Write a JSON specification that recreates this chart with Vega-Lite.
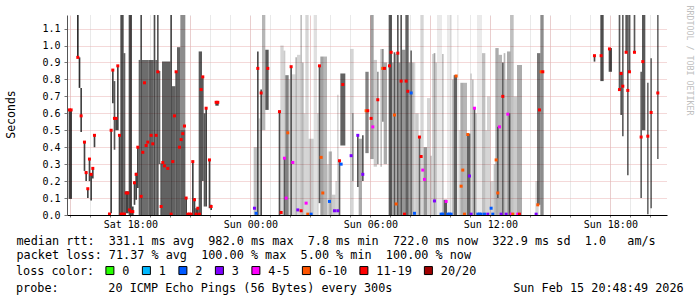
{
"$schema": "https://vega.github.io/schema/vega-lite/v6.json",
"width": 600, "height": 200,
"autosize": {"type": "none"},
"padding": {"left": 67, "top": 15, "right": 30, "bottom": 82},
"background": "white",
"config": {"view": {"stroke": null}},
"title": {"text": "probe:\u00a0\u00a0\u00a0\u00a0\u00a0\u00a0\u00a020\u00a0ICMP\u00a0Echo\u00a0Pings\u00a0(56\u00a0Bytes)\u00a0every\u00a0300s\u00a0\u00a0\u00a0\u00a0\u00a0\u00a0\u00a0\u00a0\u00a0\u00a0\u00a0\u00a0\u00a0\u00a0\u00a0\u00a0\u00a0Sun\u00a0Feb\u00a015\u00a020:48:49\u00a02026",
 "orient": "bottom", "anchor": "start", "frame": "group", "dx": -51, "offset": 5,
 "font": "DejaVu Sans Mono", "fontSize": 11.8, "fontWeight": "normal", "color": "#000"},
"resolve": {"axis": {"x": "independent", "y": "independent"}},
"datasets": {
"smoke": [
{"t1":"2026-02-14T14:55","t2":"2026-02-14T15:05","lo":0.095,"hi":0.62,"n":18},
{"t1":"2026-02-14T15:20","t2":"2026-02-14T15:25","lo":0.93,"hi":1.18,"n":20},
{"t1":"2026-02-14T15:25","t2":"2026-02-14T15:30","lo":0.75,"hi":0.93,"n":20},
{"t1":"2026-02-14T15:30","t2":"2026-02-14T15:35","lo":0.49,"hi":0.75,"n":18},
{"t1":"2026-02-14T15:40","t2":"2026-02-14T15:45","lo":0.26,"hi":0.43,"n":18},
{"t1":"2026-02-14T15:45","t2":"2026-02-14T15:50","lo":0.2,"hi":0.26,"n":18},
{"t1":"2026-02-14T15:50","t2":"2026-02-14T15:55","lo":0.1,"hi":0.16,"n":18},
{"t1":"2026-02-14T15:55","t2":"2026-02-14T16:00","lo":0.2,"hi":0.335,"n":18},
{"t1":"2026-02-14T16:00","t2":"2026-02-14T16:05","lo":0.085,"hi":0.245,"n":18},
{"t1":"2026-02-14T16:05","t2":"2026-02-14T16:10","lo":0.215,"hi":0.28,"n":18},
{"t1":"2026-02-14T16:10","t2":"2026-02-14T16:15","lo":0.4,"hi":0.47,"n":18},
{"t1":"2026-02-14T16:55","t2":"2026-02-14T17:00","lo":0,"hi":0.012,"n":18},
{"t1":"2026-02-14T17:00","t2":"2026-02-14T17:05","lo":0.01,"hi":0.5,"n":18},
{"t1":"2026-02-14T17:05","t2":"2026-02-14T17:10","lo":0.66,"hi":0.86,"n":18},
{"t1":"2026-02-14T17:10","t2":"2026-02-14T17:15","lo":0.385,"hi":0.79,"n":16},
{"t1":"2026-02-14T17:15","t2":"2026-02-14T17:20","lo":0.5,"hi":0.57,"n":18},
{"t1":"2026-02-14T17:20","t2":"2026-02-14T17:25","lo":0.5,"hi":0.88,"n":18},
{"t1":"2026-02-14T17:25","t2":"2026-02-14T17:30","lo":0,"hi":0.47,"n":18},
{"t1":"2026-02-14T17:30","t2":"2026-02-14T17:40","lo":0,"hi":1.18,"n":17},
{"t1":"2026-02-14T17:40","t2":"2026-02-14T17:45","lo":0,"hi":0.955,"n":15},
{"t1":"2026-02-14T17:45","t2":"2026-02-14T17:55","lo":0.01,"hi":0.14,"n":18},
{"t1":"2026-02-14T17:55","t2":"2026-02-14T18:05","lo":0,"hi":1.18,"n":17},
{"t1":"2026-02-14T18:05","t2":"2026-02-14T18:10","lo":0,"hi":0.05,"n":18},
{"t1":"2026-02-14T18:10","t2":"2026-02-14T18:15","lo":0.06,"hi":0.2,"n":18},
{"t1":"2026-02-14T18:15","t2":"2026-02-14T18:20","lo":0.09,"hi":0.25,"n":18},
{"t1":"2026-02-14T18:20","t2":"2026-02-14T18:25","lo":0.16,"hi":0.4,"n":18},
{"t1":"2026-02-14T18:25","t2":"2026-02-14T18:30","lo":0,"hi":0.915,"n":15},
{"t1":"2026-02-14T18:30","t2":"2026-02-14T18:35","lo":0,"hi":1.18,"n":17},
{"t1":"2026-02-14T18:35","t2":"2026-02-14T18:55","lo":0,"hi":0.915,"n":14},
{"t1":"2026-02-14T18:55","t2":"2026-02-14T19:10","lo":0,"hi":0.915,"n":15},
{"t1":"2026-02-14T19:10","t2":"2026-02-14T19:15","lo":0,"hi":1.18,"n":17},
{"t1":"2026-02-14T19:15","t2":"2026-02-14T19:20","lo":0,"hi":0.915,"n":14},
{"t1":"2026-02-14T19:20","t2":"2026-02-14T19:25","lo":0,"hi":1.18,"n":16},
{"t1":"2026-02-14T19:25","t2":"2026-02-14T19:30","lo":0.3,"hi":0.85,"n":15},
{"t1":"2026-02-14T19:30","t2":"2026-02-14T19:35","lo":0,"hi":0.305,"n":16},
{"t1":"2026-02-14T19:35","t2":"2026-02-14T20:00","lo":0,"hi":0.905,"n":15},
{"t1":"2026-02-14T20:00","t2":"2026-02-14T20:05","lo":0,"hi":1.18,"n":17},
{"t1":"2026-02-14T20:05","t2":"2026-02-14T20:15","lo":0,"hi":0.76,"n":15},
{"t1":"2026-02-14T20:15","t2":"2026-02-14T20:20","lo":0,"hi":0.845,"n":16},
{"t1":"2026-02-14T20:20","t2":"2026-02-14T20:30","lo":0,"hi":0.99,"n":15},
{"t1":"2026-02-14T20:30","t2":"2026-02-14T20:45","lo":0,"hi":1.18,"n":11},
{"t1":"2026-02-14T20:30","t2":"2026-02-14T20:45","lo":0,"hi":0.5,"n":8},
{"t1":"2026-02-14T20:45","t2":"2026-02-14T20:50","lo":0,"hi":0.1,"n":18},
{"t1":"2026-02-14T20:50","t2":"2026-02-14T21:05","lo":0,"hi":0.012,"n":18},
{"t1":"2026-02-14T21:05","t2":"2026-02-14T21:10","lo":0,"hi":0.315,"n":18},
{"t1":"2026-02-14T21:10","t2":"2026-02-14T21:15","lo":0,"hi":0.1,"n":18},
{"t1":"2026-02-14T21:15","t2":"2026-02-14T21:25","lo":0,"hi":0.04,"n":18},
{"t1":"2026-02-14T21:25","t2":"2026-02-14T21:35","lo":0,"hi":0.965,"n":16},
{"t1":"2026-02-14T21:35","t2":"2026-02-14T21:40","lo":0.2,"hi":0.82,"n":16},
{"t1":"2026-02-14T21:40","t2":"2026-02-14T21:45","lo":0.05,"hi":0.6,"n":16},
{"t1":"2026-02-14T21:45","t2":"2026-02-14T21:50","lo":0.05,"hi":0.63,"n":18},
{"t1":"2026-02-14T21:55","t2":"2026-02-14T22:00","lo":0.04,"hi":0.33,"n":18},
{"t1":"2026-02-14T22:00","t2":"2026-02-14T22:05","lo":0.03,"hi":0.06,"n":18},
{"t1":"2026-02-14T22:15","t2":"2026-02-14T22:25","lo":0.645,"hi":0.665,"n":18},
{"t1":"2026-02-15T00:10","t2":"2026-02-15T00:20","lo":0,"hi":0.4,"n":6},
{"t1":"2026-02-15T00:20","t2":"2026-02-15T00:25","lo":0,"hi":0.965,"n":17},
{"t1":"2026-02-15T00:25","t2":"2026-02-15T00:30","lo":0,"hi":0.57,"n":4},
{"t1":"2026-02-15T00:30","t2":"2026-02-15T00:35","lo":0,"hi":0.74,"n":17},
{"t1":"2026-02-15T00:35","t2":"2026-02-15T00:45","lo":0.5,"hi":1.18,"n":7},
{"t1":"2026-02-15T00:45","t2":"2026-02-15T00:55","lo":0.62,"hi":0.975,"n":16},
{"t1":"2026-02-15T01:25","t2":"2026-02-15T01:30","lo":0,"hi":0.61,"n":17},
{"t1":"2026-02-15T01:30","t2":"2026-02-15T01:40","lo":0,"hi":1.0,"n":4},
{"t1":"2026-02-15T01:40","t2":"2026-02-15T01:45","lo":0,"hi":0.97,"n":5},
{"t1":"2026-02-15T01:40","t2":"2026-02-15T01:45","lo":0,"hi":0.335,"n":14},
{"t1":"2026-02-15T01:45","t2":"2026-02-15T01:55","lo":0,"hi":0.825,"n":12},
{"t1":"2026-02-15T01:55","t2":"2026-02-15T02:00","lo":0,"hi":0.8,"n":4},
{"t1":"2026-02-15T02:00","t2":"2026-02-15T02:05","lo":0,"hi":0.875,"n":16},
{"t1":"2026-02-15T02:05","t2":"2026-02-15T02:15","lo":0,"hi":0.83,"n":4},
{"t1":"2026-02-15T02:15","t2":"2026-02-15T02:20","lo":0,"hi":0.93,"n":7},
{"t1":"2026-02-15T02:20","t2":"2026-02-15T02:30","lo":0,"hi":0.945,"n":4},
{"t1":"2026-02-15T02:30","t2":"2026-02-15T02:35","lo":0,"hi":1.18,"n":6},
{"t1":"2026-02-15T02:35","t2":"2026-02-15T02:40","lo":0,"hi":0.9,"n":7},
{"t1":"2026-02-15T02:40","t2":"2026-02-15T02:45","lo":0,"hi":0.6,"n":4},
{"t1":"2026-02-15T02:45","t2":"2026-02-15T02:55","lo":0,"hi":1.18,"n":4},
{"t1":"2026-02-15T02:55","t2":"2026-02-15T03:10","lo":0,"hi":0.45,"n":5},
{"t1":"2026-02-15T03:10","t2":"2026-02-15T03:20","lo":0,"hi":1.18,"n":3},
{"t1":"2026-02-15T03:20","t2":"2026-02-15T03:25","lo":0,"hi":0.6,"n":4},
{"t1":"2026-02-15T03:25","t2":"2026-02-15T03:30","lo":0.07,"hi":0.885,"n":16},
{"t1":"2026-02-15T03:30","t2":"2026-02-15T03:40","lo":0,"hi":0.935,"n":9},
{"t1":"2026-02-15T03:40","t2":"2026-02-15T03:50","lo":0,"hi":0.935,"n":7},
{"t1":"2026-02-15T03:50","t2":"2026-02-15T03:55","lo":0,"hi":0.3,"n":4},
{"t1":"2026-02-15T03:55","t2":"2026-02-15T04:05","lo":0,"hi":0.375,"n":7},
{"t1":"2026-02-15T04:05","t2":"2026-02-15T04:15","lo":0,"hi":0.12,"n":5},
{"t1":"2026-02-15T04:15","t2":"2026-02-15T04:20","lo":0,"hi":0.2,"n":4},
{"t1":"2026-02-15T04:20","t2":"2026-02-15T04:25","lo":0,"hi":0.71,"n":4},
{"t1":"2026-02-15T04:25","t2":"2026-02-15T04:30","lo":0,"hi":0.315,"n":16},
{"t1":"2026-02-15T04:30","t2":"2026-02-15T04:45","lo":0.41,"hi":0.835,"n":15},
{"t1":"2026-02-15T05:00","t2":"2026-02-15T05:10","lo":0,"hi":0.98,"n":4},
{"t1":"2026-02-15T05:05","t2":"2026-02-15T05:10","lo":0.2,"hi":0.6,"n":8},
{"t1":"2026-02-15T05:20","t2":"2026-02-15T05:25","lo":0.165,"hi":0.47,"n":16},
{"t1":"2026-02-15T05:25","t2":"2026-02-15T05:35","lo":0,"hi":0.45,"n":8},
{"t1":"2026-02-15T05:35","t2":"2026-02-15T05:40","lo":0.2,"hi":0.47,"n":16},
{"t1":"2026-02-15T05:45","t2":"2026-02-15T05:55","lo":0.365,"hi":0.845,"n":12},
{"t1":"2026-02-15T06:00","t2":"2026-02-15T06:10","lo":0.33,"hi":1.18,"n":9},
{"t1":"2026-02-15T06:10","t2":"2026-02-15T06:20","lo":0.285,"hi":0.915,"n":5},
{"t1":"2026-02-15T06:20","t2":"2026-02-15T06:25","lo":0.3,"hi":0.845,"n":10},
{"t1":"2026-02-15T06:30","t2":"2026-02-15T06:35","lo":0.285,"hi":0.98,"n":6},
{"t1":"2026-02-15T06:35","t2":"2026-02-15T06:40","lo":0.55,"hi":0.98,"n":11},
{"t1":"2026-02-15T06:40","t2":"2026-02-15T06:50","lo":0.3,"hi":0.9,"n":8},
{"t1":"2026-02-15T06:55","t2":"2026-02-15T07:05","lo":0,"hi":1.18,"n":16},
{"t1":"2026-02-15T07:05","t2":"2026-02-15T07:10","lo":0,"hi":0.9,"n":8},
{"t1":"2026-02-15T07:10","t2":"2026-02-15T07:15","lo":0,"hi":0.96,"n":16},
{"t1":"2026-02-15T07:15","t2":"2026-02-15T07:20","lo":0,"hi":0.95,"n":8},
{"t1":"2026-02-15T07:20","t2":"2026-02-15T07:25","lo":0,"hi":1.18,"n":16},
{"t1":"2026-02-15T07:25","t2":"2026-02-15T07:30","lo":0,"hi":0.9,"n":10},
{"t1":"2026-02-15T07:30","t2":"2026-02-15T07:35","lo":0,"hi":1.18,"n":16},
{"t1":"2026-02-15T07:35","t2":"2026-02-15T07:45","lo":0,"hi":0.975,"n":10},
{"t1":"2026-02-15T07:45","t2":"2026-02-15T07:55","lo":0,"hi":1.18,"n":15},
{"t1":"2026-02-15T07:55","t2":"2026-02-15T08:00","lo":0,"hi":0.9,"n":9},
{"t1":"2026-02-15T08:00","t2":"2026-02-15T08:05","lo":0,"hi":0.97,"n":14},
{"t1":"2026-02-15T08:05","t2":"2026-02-15T08:10","lo":0,"hi":0.9,"n":7},
{"t1":"2026-02-15T08:10","t2":"2026-02-15T08:15","lo":0,"hi":0.9,"n":4},
{"t1":"2026-02-15T08:15","t2":"2026-02-15T08:25","lo":0,"hi":0.6,"n":5},
{"t1":"2026-02-15T08:25","t2":"2026-02-15T08:30","lo":0,"hi":0.46,"n":15},
{"t1":"2026-02-15T08:30","t2":"2026-02-15T08:40","lo":0,"hi":1.18,"n":4},
{"t1":"2026-02-15T08:40","t2":"2026-02-15T08:50","lo":0,"hi":0.4,"n":10},
{"t1":"2026-02-15T08:50","t2":"2026-02-15T09:00","lo":0,"hi":0.69,"n":4},
{"t1":"2026-02-15T09:00","t2":"2026-02-15T09:05","lo":0,"hi":0.35,"n":5},
{"t1":"2026-02-15T09:05","t2":"2026-02-15T09:10","lo":0,"hi":0.95,"n":4},
{"t1":"2026-02-15T09:10","t2":"2026-02-15T09:15","lo":0,"hi":0.955,"n":9},
{"t1":"2026-02-15T09:15","t2":"2026-02-15T09:20","lo":0,"hi":0.9,"n":5},
{"t1":"2026-02-15T09:20","t2":"2026-02-15T09:35","lo":0,"hi":1.18,"n":2},
{"t1":"2026-02-15T09:35","t2":"2026-02-15T09:40","lo":0,"hi":0.95,"n":6},
{"t1":"2026-02-15T09:40","t2":"2026-02-15T09:50","lo":0,"hi":0.09,"n":16},
{"t1":"2026-02-15T09:50","t2":"2026-02-15T10:05","lo":0,"hi":1.18,"n":2},
{"t1":"2026-02-15T10:05","t2":"2026-02-15T10:10","lo":0,"hi":0.8,"n":6},
{"t1":"2026-02-15T10:10","t2":"2026-02-15T10:20","lo":0,"hi":0.825,"n":15},
{"t1":"2026-02-15T10:20","t2":"2026-02-15T10:25","lo":0,"hi":1.18,"n":2},
{"t1":"2026-02-15T10:25","t2":"2026-02-15T10:30","lo":0,"hi":0.5,"n":4},
{"t1":"2026-02-15T10:30","t2":"2026-02-15T10:40","lo":0,"hi":0.78,"n":8},
{"t1":"2026-02-15T10:40","t2":"2026-02-15T10:50","lo":0,"hi":0.78,"n":7},
{"t1":"2026-02-15T10:50","t2":"2026-02-15T11:00","lo":0,"hi":0.48,"n":15},
{"t1":"2026-02-15T11:00","t2":"2026-02-15T11:05","lo":0,"hi":0.835,"n":4},
{"t1":"2026-02-15T11:05","t2":"2026-02-15T11:10","lo":0,"hi":0.8,"n":6},
{"t1":"2026-02-15T11:10","t2":"2026-02-15T11:15","lo":0,"hi":0.63,"n":16},
{"t1":"2026-02-15T11:15","t2":"2026-02-15T11:20","lo":0,"hi":0.6,"n":5},
{"t1":"2026-02-15T11:20","t2":"2026-02-15T11:35","lo":0,"hi":1.18,"n":2},
{"t1":"2026-02-15T11:35","t2":"2026-02-15T11:45","lo":0,"hi":0.955,"n":6},
{"t1":"2026-02-15T11:45","t2":"2026-02-15T11:50","lo":0,"hi":0.5,"n":4},
{"t1":"2026-02-15T11:50","t2":"2026-02-15T12:00","lo":0,"hi":0.7,"n":4},
{"t1":"2026-02-15T12:00","t2":"2026-02-15T12:10","lo":0,"hi":0.2,"n":4},
{"t1":"2026-02-15T12:10","t2":"2026-02-15T12:15","lo":0,"hi":0.3,"n":6},
{"t1":"2026-02-15T12:15","t2":"2026-02-15T12:25","lo":0,"hi":0.985,"n":8},
{"t1":"2026-02-15T12:20","t2":"2026-02-15T12:25","lo":0.1,"hi":0.52,"n":12},
{"t1":"2026-02-15T12:25","t2":"2026-02-15T12:35","lo":0,"hi":0.945,"n":7},
{"t1":"2026-02-15T12:35","t2":"2026-02-15T12:40","lo":0,"hi":0.9,"n":15},
{"t1":"2026-02-15T12:40","t2":"2026-02-15T12:45","lo":0,"hi":0.955,"n":7},
{"t1":"2026-02-15T12:45","t2":"2026-02-15T12:50","lo":0,"hi":0.8,"n":5},
{"t1":"2026-02-15T12:50","t2":"2026-02-15T13:00","lo":0,"hi":0.965,"n":8},
{"t1":"2026-02-15T12:55","t2":"2026-02-15T13:00","lo":0,"hi":0.6,"n":14},
{"t1":"2026-02-15T13:00","t2":"2026-02-15T13:10","lo":0,"hi":1.18,"n":6},
{"t1":"2026-02-15T13:10","t2":"2026-02-15T13:20","lo":0,"hi":0.7,"n":5},
{"t1":"2026-02-15T13:20","t2":"2026-02-15T13:35","lo":0,"hi":0.885,"n":8},
{"t1":"2026-02-15T14:15","t2":"2026-02-15T14:25","lo":0,"hi":0.2,"n":4},
{"t1":"2026-02-15T14:20","t2":"2026-02-15T14:30","lo":0.06,"hi":0.955,"n":13},
{"t1":"2026-02-15T14:30","t2":"2026-02-15T14:40","lo":0,"hi":1.18,"n":11},
{"t1":"2026-02-15T17:10","t2":"2026-02-15T17:15","lo":0.905,"hi":0.94,"n":18},
{"t1":"2026-02-15T17:30","t2":"2026-02-15T17:40","lo":0.79,"hi":1.18,"n":17},
{"t1":"2026-02-15T17:55","t2":"2026-02-15T18:05","lo":0.845,"hi":0.985,"n":17},
{"t1":"2026-02-15T18:25","t2":"2026-02-15T18:30","lo":0.74,"hi":1.18,"n":16},
{"t1":"2026-02-15T18:30","t2":"2026-02-15T18:35","lo":0.59,"hi":0.845,"n":16},
{"t1":"2026-02-15T18:35","t2":"2026-02-15T18:40","lo":0.465,"hi":1.18,"n":15},
{"t1":"2026-02-15T18:45","t2":"2026-02-15T18:50","lo":0.96,"hi":1.18,"n":16},
{"t1":"2026-02-15T18:50","t2":"2026-02-15T18:55","lo":0.235,"hi":1.18,"n":15},
{"t1":"2026-02-15T18:55","t2":"2026-02-15T19:00","lo":0.845,"hi":1.18,"n":16},
{"t1":"2026-02-15T19:10","t2":"2026-02-15T19:15","lo":0.96,"hi":1.18,"n":16},
{"t1":"2026-02-15T19:30","t2":"2026-02-15T19:35","lo":0.1,"hi":0.845,"n":15},
{"t1":"2026-02-15T19:35","t2":"2026-02-15T19:45","lo":0.5,"hi":1.18,"n":16},
{"t1":"2026-02-15T19:50","t2":"2026-02-15T19:55","lo":0.005,"hi":0.78,"n":14},
{"t1":"2026-02-15T20:00","t2":"2026-02-15T20:05","lo":0.04,"hi":0.925,"n":14},
{"t1":"2026-02-15T20:20","t2":"2026-02-15T20:25","lo":0.33,"hi":1.18,"n":14}
],
"median": [
{"t":"2026-02-14T14:55","m":0.62,"loss":"11-19"},
{"t":"2026-02-14T15:00","m":0.62,"loss":"11-19"},
{"t":"2026-02-14T15:20","m":0.93,"loss":"11-19"},
{"t":"2026-02-14T15:30","m":0.585,"loss":"11-19"},
{"t":"2026-02-14T15:40","m":0.43,"loss":"11-19"},
{"t":"2026-02-14T15:45","m":0.25,"loss":"11-19"},
{"t":"2026-02-14T15:50","m":0.155,"loss":"11-19"},
{"t":"2026-02-14T15:55","m":0.33,"loss":"11-19"},
{"t":"2026-02-14T16:00","m":0.24,"loss":"11-19"},
{"t":"2026-02-14T16:05","m":0.275,"loss":"11-19"},
{"t":"2026-02-14T16:10","m":0.47,"loss":"11-19"},
{"t":"2026-02-14T16:55","m":0.006,"loss":"11-19"},
{"t":"2026-02-14T17:00","m":0.5,"loss":"11-19"},
{"t":"2026-02-14T17:05","m":0.855,"loss":"11-19"},
{"t":"2026-02-14T17:10","m":0.57,"loss":"11-19"},
{"t":"2026-02-14T17:15","m":0.57,"loss":"11-19"},
{"t":"2026-02-14T17:20","m":0.88,"loss":"11-19"},
{"t":"2026-02-14T17:25","m":0.47,"loss":"11-19"},
{"t":"2026-02-14T17:30","m":0.005,"loss":"11-19"},
{"t":"2026-02-14T17:35","m":0.005,"loss":"11-19"},
{"t":"2026-02-14T17:40","m":0.005,"loss":"11-19"},
{"t":"2026-02-14T17:45","m":0.13,"loss":"11-19"},
{"t":"2026-02-14T17:50","m":0.13,"loss":"11-19"},
{"t":"2026-02-14T17:55","m":0.03,"loss":"11-19"},
{"t":"2026-02-14T18:00","m":0.02,"loss":"11-19"},
{"t":"2026-02-14T18:05","m":0.02,"loss":"11-19"},
{"t":"2026-02-14T18:10","m":0.19,"loss":"11-19"},
{"t":"2026-02-14T18:15","m":0.24,"loss":"11-19"},
{"t":"2026-02-14T18:20","m":0.4,"loss":"11-19"},
{"t":"2026-02-14T18:30","m":0.11,"loss":"11-19"},
{"t":"2026-02-14T18:35","m":0.37,"loss":"11-19"},
{"t":"2026-02-14T18:40","m":0.78,"loss":"11-19"},
{"t":"2026-02-14T18:45","m":0.41,"loss":"11-19"},
{"t":"2026-02-14T18:50","m":0.43,"loss":"11-19"},
{"t":"2026-02-14T19:00","m":0.47,"loss":"11-19"},
{"t":"2026-02-14T19:05","m":0.42,"loss":"11-19"},
{"t":"2026-02-14T19:15","m":0.47,"loss":"11-19"},
{"t":"2026-02-14T19:20","m":0.845,"loss":"11-19"},
{"t":"2026-02-14T19:30","m":0.05,"loss":"11-19"},
{"t":"2026-02-14T19:35","m":0.31,"loss":"11-19"},
{"t":"2026-02-14T19:40","m":0.29,"loss":"11-19"},
{"t":"2026-02-14T19:50","m":0.275,"loss":"11-19"},
{"t":"2026-02-14T20:00","m":0.005,"loss":"11-19"},
{"t":"2026-02-14T20:05","m":0.315,"loss":"11-19"},
{"t":"2026-02-14T20:10","m":0.585,"loss":"11-19"},
{"t":"2026-02-14T20:15","m":0.845,"loss":"11-19"},
{"t":"2026-02-14T20:25","m":0.4,"loss":"11-19"},
{"t":"2026-02-14T20:30","m":0.445,"loss":"11-19"},
{"t":"2026-02-14T20:35","m":0.48,"loss":"11-19"},
{"t":"2026-02-14T20:40","m":0.525,"loss":"11-19"},
{"t":"2026-02-14T20:45","m":0.1,"loss":"11-19"},
{"t":"2026-02-14T20:50","m":0.005,"loss":"11-19"},
{"t":"2026-02-14T20:55","m":0.005,"loss":"11-19"},
{"t":"2026-02-14T21:00","m":0.005,"loss":"11-19"},
{"t":"2026-02-14T21:05","m":0.315,"loss":"11-19"},
{"t":"2026-02-14T21:10","m":0.09,"loss":"11-19"},
{"t":"2026-02-14T21:15","m":0.005,"loss":"11-19"},
{"t":"2026-02-14T21:20","m":0.04,"loss":"11-19"},
{"t":"2026-02-14T21:25","m":0.005,"loss":"11-19"},
{"t":"2026-02-14T21:30","m":0.74,"loss":"11-19"},
{"t":"2026-02-14T21:35","m":0.815,"loss":"11-19"},
{"t":"2026-02-14T21:45","m":0.63,"loss":"11-19"},
{"t":"2026-02-14T21:55","m":0.325,"loss":"11-19"},
{"t":"2026-02-14T22:00","m":0.05,"loss":"11-19"},
{"t":"2026-02-14T22:15","m":0.665,"loss":"11-19"},
{"t":"2026-02-14T22:20","m":0.665,"loss":"11-19"},
{"t":"2026-02-15T00:10","m":0.04,"loss":"3"},
{"t":"2026-02-15T00:15","m":0.01,"loss":"2"},
{"t":"2026-02-15T00:20","m":0.865,"loss":"11-19"},
{"t":"2026-02-15T00:30","m":0.72,"loss":"11-19"},
{"t":"2026-02-15T00:50","m":0.865,"loss":"11-19"},
{"t":"2026-02-15T01:25","m":0.61,"loss":"11-19"},
{"t":"2026-02-15T01:30","m":0.015,"loss":"11-19"},
{"t":"2026-02-15T01:40","m":0.335,"loss":"4-5"},
{"t":"2026-02-15T01:45","m":0.1,"loss":"4-5"},
{"t":"2026-02-15T01:50","m":0.485,"loss":"6-10"},
{"t":"2026-02-15T02:00","m":0.875,"loss":"11-19"},
{"t":"2026-02-15T02:05","m":0.31,"loss":"4-5"},
{"t":"2026-02-15T02:20","m":0.03,"loss":"3"},
{"t":"2026-02-15T02:30","m":0.025,"loss":"11-19"},
{"t":"2026-02-15T02:45","m":0.07,"loss":"4-5"},
{"t":"2026-02-15T02:50","m":0.005,"loss":"6-10"},
{"t":"2026-02-15T03:00","m":0.005,"loss":"2"},
{"t":"2026-02-15T03:25","m":0.88,"loss":"11-19"},
{"t":"2026-02-15T03:30","m":0.34,"loss":"6-10"},
{"t":"2026-02-15T03:35","m":0.13,"loss":"6-10"},
{"t":"2026-02-15T03:55","m":0.08,"loss":"2"},
{"t":"2026-02-15T04:10","m":0.025,"loss":"3"},
{"t":"2026-02-15T04:20","m":0.025,"loss":"3"},
{"t":"2026-02-15T04:25","m":0.32,"loss":"11-19"},
{"t":"2026-02-15T04:30","m":0.3,"loss":"2"},
{"t":"2026-02-15T04:35","m":0.77,"loss":"11-19"},
{"t":"2026-02-15T05:00","m":0.35,"loss":"3"},
{"t":"2026-02-15T05:20","m":0.47,"loss":"3"},
{"t":"2026-02-15T05:35","m":0.24,"loss":"3"},
{"t":"2026-02-15T05:45","m":0.615,"loss":"6-10"},
{"t":"2026-02-15T05:50","m":0.615,"loss":"11-19"},
{"t":"2026-02-15T06:00","m":0.57,"loss":"11-19"},
{"t":"2026-02-15T06:05","m":0.52,"loss":"4-5"},
{"t":"2026-02-15T06:20","m":0.68,"loss":"11-19"},
{"t":"2026-02-15T06:35","m":0.865,"loss":"6-10"},
{"t":"2026-02-15T06:40","m":0.865,"loss":"11-19"},
{"t":"2026-02-15T06:55","m":0.88,"loss":"11-19"},
{"t":"2026-02-15T07:00","m":0.96,"loss":"11-19"},
{"t":"2026-02-15T07:10","m":0.59,"loss":"6-10"},
{"t":"2026-02-15T07:15","m":0.065,"loss":"6-10"},
{"t":"2026-02-15T07:20","m":0.955,"loss":"11-19"},
{"t":"2026-02-15T07:30","m":0.79,"loss":"11-19"},
{"t":"2026-02-15T07:40","m":0.005,"loss":"11-19"},
{"t":"2026-02-15T07:45","m":0.79,"loss":"11-19"},
{"t":"2026-02-15T07:50","m":0.73,"loss":"11-19"},
{"t":"2026-02-15T08:00","m":0.72,"loss":"2"},
{"t":"2026-02-15T08:10","m":0.01,"loss":"2"},
{"t":"2026-02-15T08:25","m":0.46,"loss":"11-19"},
{"t":"2026-02-15T08:30","m":0.345,"loss":"11-19"},
{"t":"2026-02-15T08:35","m":0.265,"loss":"4-5"},
{"t":"2026-02-15T08:40","m":0.21,"loss":"4-5"},
{"t":"2026-02-15T09:10","m":0.083,"loss":"3"},
{"t":"2026-02-15T09:30","m":0.005,"loss":"2"},
{"t":"2026-02-15T09:35","m":0.005,"loss":"2"},
{"t":"2026-02-15T09:45","m":0.08,"loss":"4-5"},
{"t":"2026-02-15T09:50","m":0.005,"loss":"2"},
{"t":"2026-02-15T09:55","m":0.005,"loss":"2"},
{"t":"2026-02-15T10:00","m":0.005,"loss":"2"},
{"t":"2026-02-15T10:15","m":0.82,"loss":"6-10"},
{"t":"2026-02-15T10:30","m":0.17,"loss":"6-10"},
{"t":"2026-02-15T10:35","m":0.265,"loss":"6-10"},
{"t":"2026-02-15T10:40","m":0.005,"loss":"6-10"},
{"t":"2026-02-15T10:50","m":0.475,"loss":"6-10"},
{"t":"2026-02-15T10:55","m":0.23,"loss":"3"},
{"t":"2026-02-15T11:00","m":0.005,"loss":"3"},
{"t":"2026-02-15T11:10","m":0.63,"loss":"4-5"},
{"t":"2026-02-15T11:20","m":0.005,"loss":"2"},
{"t":"2026-02-15T11:25","m":0.005,"loss":"2"},
{"t":"2026-02-15T11:30","m":0.005,"loss":"2"},
{"t":"2026-02-15T11:40","m":0.005,"loss":"2"},
{"t":"2026-02-15T11:50","m":0.005,"loss":"3"},
{"t":"2026-02-15T12:00","m":0.04,"loss":"2"},
{"t":"2026-02-15T12:05","m":0.005,"loss":"2"},
{"t":"2026-02-15T12:15","m":0.325,"loss":"6-10"},
{"t":"2026-02-15T12:20","m":0.13,"loss":"6-10"},
{"t":"2026-02-15T12:25","m":0.52,"loss":"4-5"},
{"t":"2026-02-15T12:30","m":0.005,"loss":"3"},
{"t":"2026-02-15T12:35","m":0.7,"loss":"11-19"},
{"t":"2026-02-15T12:45","m":0.005,"loss":"3"},
{"t":"2026-02-15T12:50","m":0.595,"loss":"4-5"},
{"t":"2026-02-15T13:00","m":0.005,"loss":"4-5"},
{"t":"2026-02-15T13:05","m":0.005,"loss":"6-10"},
{"t":"2026-02-15T13:20","m":0.005,"loss":"4-5"},
{"t":"2026-02-15T13:25","m":0.005,"loss":"11-19"},
{"t":"2026-02-15T14:15","m":0.005,"loss":"3"},
{"t":"2026-02-15T14:20","m":0.06,"loss":"6-10"},
{"t":"2026-02-15T14:25","m":0.62,"loss":"11-19"},
{"t":"2026-02-15T14:30","m":0.845,"loss":"6-10"},
{"t":"2026-02-15T14:35","m":0.845,"loss":"11-19"},
{"t":"2026-02-15T17:10","m":0.94,"loss":"11-19"},
{"t":"2026-02-15T17:30","m":0.94,"loss":"11-19"},
{"t":"2026-02-15T17:55","m":0.98,"loss":"11-19"},
{"t":"2026-02-15T18:25","m":0.74,"loss":"11-19"},
{"t":"2026-02-15T18:30","m":0.835,"loss":"11-19"},
{"t":"2026-02-15T18:35","m":0.76,"loss":"11-19"},
{"t":"2026-02-15T18:45","m":0.96,"loss":"11-19"},
{"t":"2026-02-15T18:50","m":0.735,"loss":"11-19"},
{"t":"2026-02-15T18:55","m":0.845,"loss":"11-19"},
{"t":"2026-02-15T19:10","m":0.96,"loss":"11-19"},
{"t":"2026-02-15T19:30","m":0.46,"loss":"11-19"},
{"t":"2026-02-15T19:35","m":0.905,"loss":"11-19"},
{"t":"2026-02-15T19:50","m":0.465,"loss":"11-19"},
{"t":"2026-02-15T20:00","m":0.605,"loss":"11-19"},
{"t":"2026-02-15T20:20","m":0.72,"loss":"11-19"}
]
},
"layer": [
{
"data": {"name": "smoke"},
"mark": {"type": "rect", "clip": true},
"encoding": {
"x": {"field": "t1", "type": "temporal",
 "scale": {"domain": ["2026-02-14T14:50", "2026-02-15T20:50"]},
 "axis": {
  "values": ["2026-02-14T15:00","2026-02-14T16:00","2026-02-14T17:00","2026-02-14T18:00","2026-02-14T19:00","2026-02-14T20:00","2026-02-14T21:00","2026-02-14T22:00","2026-02-14T23:00","2026-02-15T00:00","2026-02-15T01:00","2026-02-15T02:00","2026-02-15T03:00","2026-02-15T04:00","2026-02-15T05:00","2026-02-15T06:00","2026-02-15T07:00","2026-02-15T08:00","2026-02-15T09:00","2026-02-15T10:00","2026-02-15T11:00","2026-02-15T12:00","2026-02-15T13:00","2026-02-15T14:00","2026-02-15T15:00","2026-02-15T16:00","2026-02-15T17:00","2026-02-15T18:00","2026-02-15T19:00","2026-02-15T20:00"],
  "labelExpr": "hours(datum.value) % 6 == 0 ? timeFormat(datum.value, '%a %H:%M') : ''",
  "labelFont": "DejaVu Sans Mono", "labelFontSize": 10, "labelColor": "#000",
  "labelPadding": 2, "labelOverlap": false, "labelFlush": false, "labelAngle": 0,
  "grid": true, "gridColor": "#d2d2d2", "gridDash": [1, 1],
  "tickSize": 2, "tickColor": "#777", "domainColor": "#000",
  "title": [
   "median\u00a0rtt:\u00a0\u00a0331.1\u00a0ms\u00a0avg\u00a0\u00a0982.0\u00a0ms\u00a0max\u00a0\u00a07.8\u00a0ms\u00a0min\u00a0\u00a0722.0\u00a0ms\u00a0now\u00a0\u00a0322.9\u00a0ms\u00a0sd\u00a0\u00a01.0\u00a0\u00a0\u00a0am/s",
   "packet\u00a0loss:\u00a071.37\u00a0%\u00a0avg\u00a0\u00a0100.00\u00a0%\u00a0max\u00a0\u00a05.00\u00a0%\u00a0min\u00a0\u00a0100.00\u00a0%\u00a0now"
  ],
  "titleFont": "DejaVu Sans Mono", "titleFontSize": 11.8, "titleFontWeight": "normal", "titleColor": "#000",
  "titleAnchor": "start", "titleAlign": "left", "titleBaseline": "alphabetic",
  "titleX": -51, "titleY": 29.3
 }},
"x2": {"field": "t2"},
"y": {"field": "lo", "type": "quantitative",
 "scale": {"domain": [0, 1.18], "nice": false},
 "axis": {
  "values": [0, 0.1, 0.2, 0.3, 0.4, 0.5, 0.6, 0.7, 0.8, 0.9, 1.0, 1.1],
  "format": ".1f",
  "labelFont": "DejaVu Sans Mono", "labelFontSize": 10, "labelColor": "#000",
  "tickSize": 3, "tickColor": "#777", "labelPadding": 4,
  "grid": true, "gridColor": "#e9b2b2", "gridDash": [1, 1],
  "domainColor": "#555",
  "title": "Seconds", "titleFont": "DejaVu Sans Mono", "titleFontSize": 11.5, "titleFontWeight": "normal", "titleColor": "#000",
  "titleX": -56, "titleY": 99, "titleAngle": -90, "titleAlign": "center", "titleBaseline": "middle"
 }},
"y2": {"field": "hi"},
"color": {"value": "#000"},
"opacity": {"field": "n", "type": "quantitative", "scale": {"domain": [0, 20], "range": [0, 0.82]}, "legend": null}
}
},
{
"data": {"name": "median"},
"mark": {"type": "point", "shape": "square", "filled": true, "size": 9, "opacity": 1, "xOffset": 0.8, "clip": true},
"encoding": {
"x": {"field": "t", "type": "temporal",
 "axis": {
  "values": ["2026-02-14T15:00","2026-02-14T18:00","2026-02-14T21:00","2026-02-15T00:00","2026-02-15T03:00","2026-02-15T06:00","2026-02-15T09:00","2026-02-15T12:00","2026-02-15T15:00","2026-02-15T18:00"],
  "grid": true, "gridColor": "#e9b2b2", "gridDash": [1, 1],
  "labels": false, "ticks": false, "domain": false, "title": null
 }},
"y": {"field": "m", "type": "quantitative",
 "axis": {"orient": "right", "labels": false, "ticks": false, "domain": false, "grid": false,
  "title": "RRDTOOL / TOBI OETIKER", "titleFont": "DejaVu Sans Mono", "titleFontSize": 8.3, "titleFontWeight": "normal",
  "titleColor": "#c0c0c0", "titleAngle": 90, "titleX": 21, "titleY": -10, "titleAlign": "left", "titleBaseline": "middle"}},
"color": {"field": "loss", "type": "nominal",
 "scale": {"domain": ["0", "1", "2", "3", "4-5", "6-10", "11-19", "20/20"],
  "range": ["#26ff00", "#00b8ff", "#0059ff", "#7e00ff", "#ff00ff", "#ff5500", "#ff0000", "#a00000"]},
 "legend": {
  "orient": "none", "direction": "horizontal", "legendX": -51, "legendY": 249.5,
  "title": "loss color:", "titleOrient": "left", "titleFont": "DejaVu Sans Mono", "titleFontSize": 11.8,
  "titleFontWeight": "normal", "titleColor": "#000", "titlePadding": 9,
  "labelFont": "DejaVu Sans Mono", "labelFontSize": 11.8, "labelColor": "#000", "labelOffset": 6.5,
  "columnPadding": 9.5, "symbolType": "square", "symbolSize": 64, "symbolStrokeColor": "#000",
  "symbolStrokeWidth": 1, "symbolOpacity": 1, "padding": 0,
  "values": ["0", "1", "2", "3", "4-5", "6-10", "11-19", "20/20"]
 }}
}
}
]
}
